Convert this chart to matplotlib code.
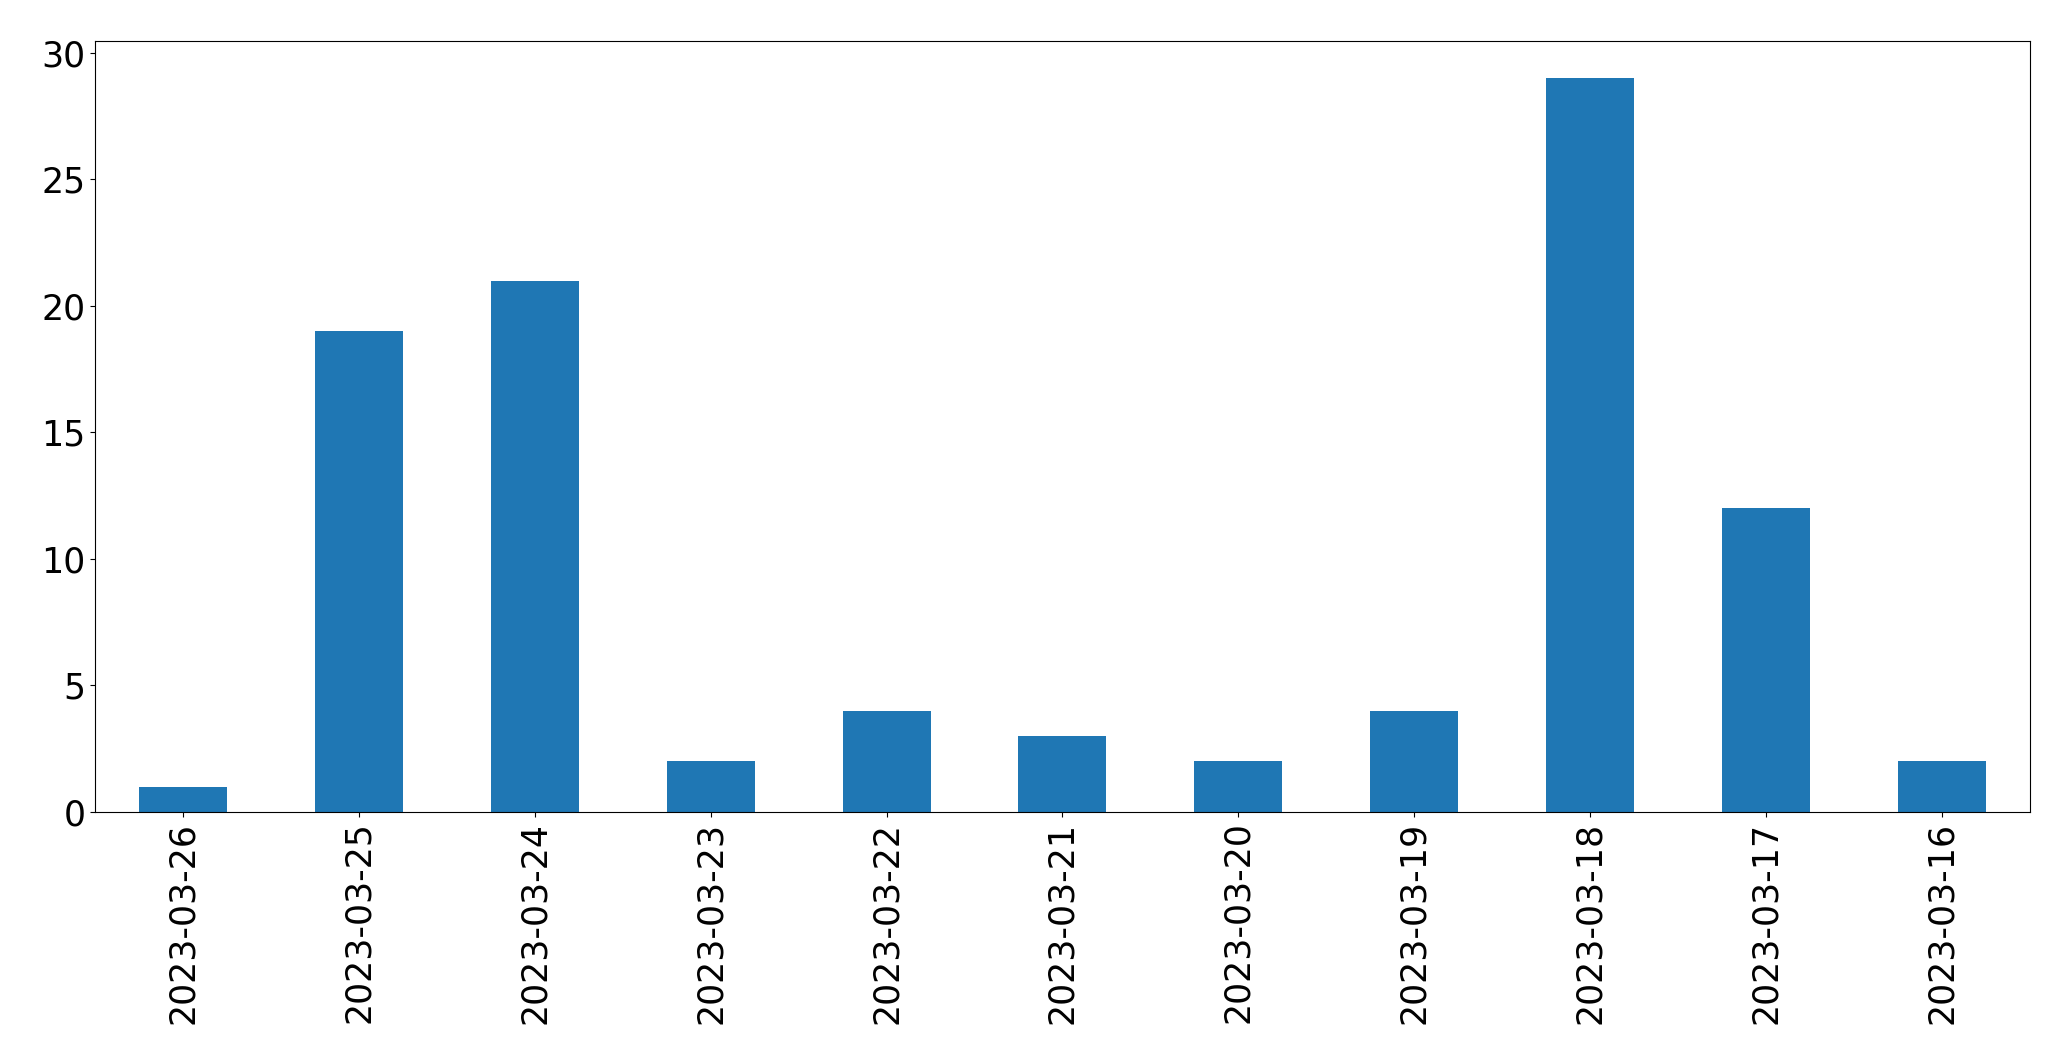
import pandas as pd
import matplotlib
matplotlib.use("Agg")
import matplotlib.pyplot as plt

dates = ["2023-03-26", "2023-03-25", "2023-03-24", "2023-03-23", "2023-03-22",
         "2023-03-21", "2023-03-20", "2023-03-19", "2023-03-18", "2023-03-17",
         "2023-03-16"]
counts = [1, 19, 21, 2, 4, 3, 2, 4, 29, 12, 2]

plt.rcParams["font.size"] = 25

series = pd.Series(counts, index=dates)

fig, ax = plt.subplots(figsize=(20.71, 10.64), dpi=100)
series.plot(kind="bar", ax=ax, color="#1f77b4")
ax.tick_params(axis="both", labelsize=25)

fig.subplots_adjust(left=0.046, right=0.980, top=0.961, bottom=0.237)
fig.savefig("out.png", dpi=100)
